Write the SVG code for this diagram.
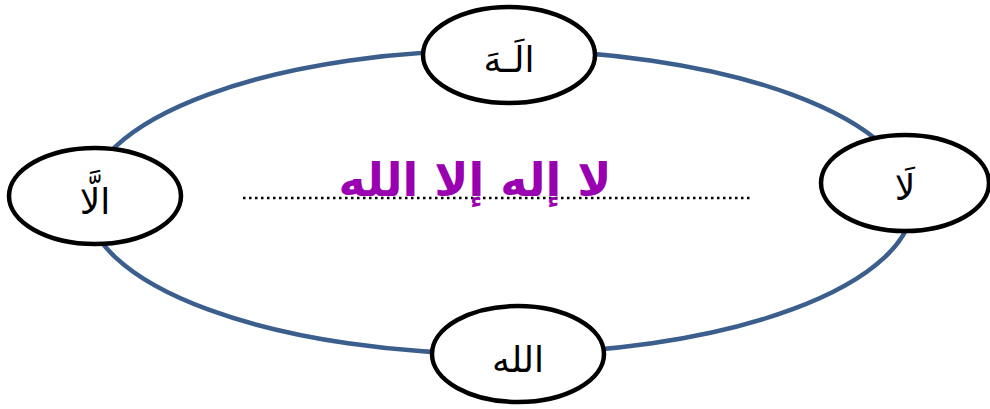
<svg xmlns="http://www.w3.org/2000/svg" width="990" height="409" viewBox="0 0 990 409">
<style>
.node{fill:#fff;stroke:#000;stroke-width:4.5}
.lbl{font-family:"DejaVu Sans",sans-serif;font-size:36px;fill:#000;text-anchor:middle}
.title{font-family:"DejaVu Sans",sans-serif;font-size:46px;font-weight:bold;fill:#9900B0;text-anchor:middle}
</style>
<rect width="990" height="409" fill="#fff"/>
<g id="connectors">
<ellipse cx="500" cy="202" rx="413" ry="152" fill="none" stroke="#3B5E8C" stroke-width="4.5"/>
<line x1="243" y1="198" x2="752" y2="198" stroke="#000" stroke-width="2.5" stroke-dasharray="2.5,3.5"/>
</g>
<g id="title"><text class="title" x="475" y="196" direction="rtl">لا إله إلا الله</text></g>
<g id="node-top"><ellipse class="node" cx="509" cy="55" rx="86" ry="48"/><text class="lbl" x="509" y="72" direction="rtl">الَـهَ</text></g>
<g id="node-left"><ellipse class="node" cx="95" cy="196" rx="86" ry="48"/><text class="lbl" x="95" y="214" direction="rtl">الَّا</text></g>
<g id="node-right"><ellipse class="node" cx="905" cy="183" rx="84" ry="48"/><text class="lbl" x="905" y="200" direction="rtl">لَا</text></g>
<g id="node-bottom"><ellipse class="node" cx="518" cy="354" rx="86" ry="48"/><text class="lbl" x="518" y="372" direction="rtl">الله</text></g>
</svg>
